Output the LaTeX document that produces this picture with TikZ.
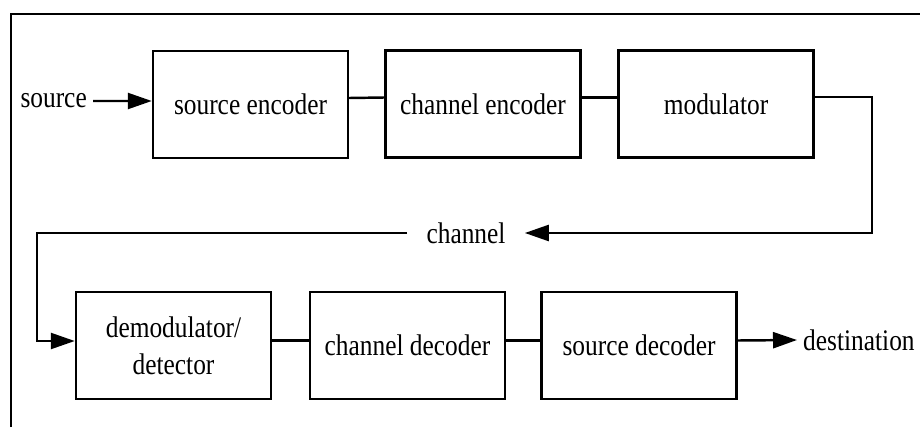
\documentclass[tikz,border=0pt]{standalone}
\usepackage{fontspec}
\setmainfont{Liberation Serif}[FakeStretch=0.85]
\usetikzlibrary{arrows.meta}

\begin{document}
\begin{tikzpicture}[
    font=\fontsize{17}{21}\selectfont,
    block/.style={draw, line width=1.4pt, minimum width=3.9cm, minimum height=2.14cm, align=center},
    link/.style={line width=1.4pt},
    flow/.style={line width=1.4pt, -{Triangle[length=4.8mm, width=3.2mm]}}
]
    \useasboundingbox (0,0) rectangle (18.4,8.54);
    \draw[line width=1.3pt] (0.22,0) -- (0.22,8.26) -- (18.4,8.26);

    \node[anchor=east] (src) at (1.86,6.52) {source};
    \node[block] (srcenc) at (5.01,6.45) {source encoder};
    \node[block] (chenc) at (9.66,6.46) {channel encoder};
    \node[block] (mod) at (14.32,6.46) {modulator};

    \node[inner xsep=0.38cm] (chan) at (9.32,3.88) {channel};
    \coordinate (c1) at (17.44,6.6);
    \coordinate (c2) at (17.44,3.88);
    \coordinate (c3) at (0.74,3.88);
    \coordinate (c4) at (0.74,1.72);

    \node[block] (demod) at (3.47,1.63) {demodulator/\\detector};
    \node[block] (chdec) at (8.15,1.63) {channel decoder};
    \node[block] (srcdec) at (12.78,1.63) {source decoder};
    \node[anchor=west] (dest) at (15.94,1.74) {destination};

    \draw[flow] (src.east) -- ([yshift=0.07cm]srcenc.west);
    \draw[link] ([yshift=0.13cm]srcenc.east) -- ([yshift=0.13cm]chenc.west);
    \draw[link] ([yshift=0.13cm]chenc.east) -- ([yshift=0.13cm]mod.west);
    \draw[flow] ([yshift=0.14cm]mod.east) -- (c1) -- (c2) -- (chan.east);
    \draw[flow] (chan.west) -- (c3) -- (c4) -- (c4 -| demod.west);
    \draw[link] ([yshift=0.1cm]demod.east) -- ([yshift=0.1cm]chdec.west);
    \draw[link] ([yshift=0.1cm]chdec.east) -- ([yshift=0.1cm]srcdec.west);
    \draw[flow] ([yshift=0.1cm]srcdec.east) -- (dest.west);
\end{tikzpicture}
\end{document}
